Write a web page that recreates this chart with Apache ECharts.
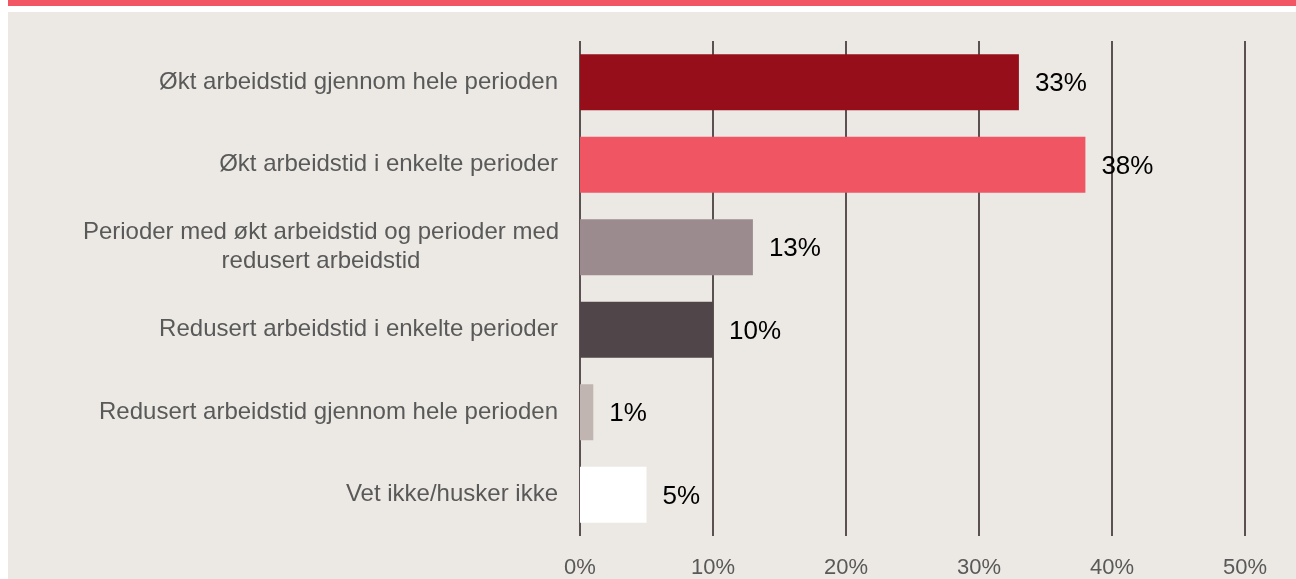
<!DOCTYPE html>
<html>
<head>
<meta charset="utf-8">
<script src="https://cdn.jsdelivr.net/npm/echarts@6/dist/echarts.min.js"></script>
<style>
  html, body { margin: 0; padding: 0; background: #ffffff; }
  #stripe { position: absolute; left: 8px; top: 0; width: 1288px; height: 6px; background: #F25665; }
  #chart { position: absolute; left: 8px; top: 12px; width: 1288px; height: 567px; background: #ECE9E4; }
</style>
</head>
<body>
<div id="stripe"></div>
<div id="chart"></div>
<script>
const categories = [
  'Økt arbeidstid gjennom hele perioden',
  'Økt arbeidstid i enkelte perioder',
  'Perioder med økt arbeidstid og perioder med\nredusert arbeidstid',
  'Redusert arbeidstid i enkelte perioder',
  'Redusert arbeidstid gjennom hele perioden',
  'Vet ikke/husker ikke'
]
const values = [33, 38, 13, 10, 1, 5]
const barColors = ['#950E19', '#F05564', '#9B8B8F', '#504548', '#C1B5B1', '#FFFFFF']

const chart = echarts.init(document.getElementById('chart'))
const options = {
  animation: false,
  grid: {
    left: 572,
    right: 51,
    top: 29,
    bottom: 43
  },
  xAxis: {
    type: 'value',
    min: 0,
    max: 50,
    interval: 10,
    axisLine: { show: false },
    axisTick: { show: false },
    splitLine: {
      show: true,
      lineStyle: { color: '#5B5052', width: 2 }
    },
    axisLabel: {
      formatter: '{value}%',
      color: '#595959',
      fontSize: 22,
      fontFamily: 'Liberation Sans, Arial, sans-serif',
      margin: 21
    }
  },
  yAxis: {
    type: 'category',
    inverse: true,
    data: categories,
    axisLine: { show: false },
    axisTick: { show: false },
    axisLabel: {
      color: '#595959',
      fontSize: 24,
      fontFamily: 'Liberation Sans, Arial, sans-serif',
      margin: 22,
      lineHeight: 29,
      formatter: function (v) {
        if (v.indexOf('\n') < 0) return v
        return v.split('\n').map(function (s) { return '{c|' + s + '}' }).join('\n')
      },
      rich: {
        c: {
          width: 474,
          align: 'center',
          color: '#595959',
          fontSize: 24,
          lineHeight: 29,
          fontFamily: 'Liberation Sans, Arial, sans-serif'
        }
      }
    }
  },
  series: [
    {
      type: 'bar',
      barWidth: 56,
      data: values.map(function (v, i) {
        return { value: v, itemStyle: { color: barColors[i] } }
      }),
      label: {
        show: true,
        position: 'right',
        distance: 16,
        offset: [0, 2],
        formatter: '{c}%',
        color: '#000000',
        fontSize: 26,
        fontFamily: 'Liberation Sans, Arial, sans-serif'
      }
    }
  ]
}
chart.setOption(options)
</script>
</body>
</html>
